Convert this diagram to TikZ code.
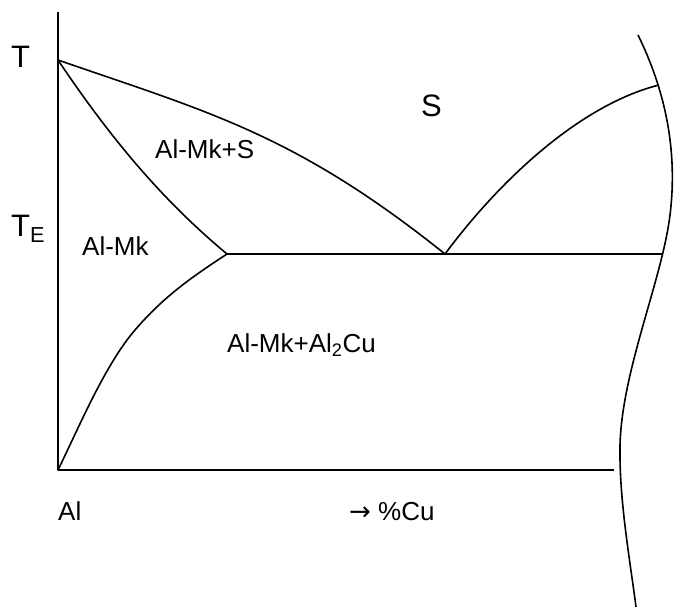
\documentclass[tikz,border=0pt]{standalone}
\usepackage{fontspec}
\setmainfont{Liberation Sans}
\newfontfamily\arrowfont{DejaVu Sans}
\tikzset{
  diag/.style={line width=1.6pt, line join=round},
  lbl/.style={anchor=base west, inner sep=0pt, font=\fontsize{26}{30}\selectfont},
  biglbl/.style={lbl, font=\fontsize{31}{36}\selectfont}
}
\begin{document}
\begin{tikzpicture}[x=1pt,y=-1pt]
  \useasboundingbox (0,0) rectangle (674,607);
  % Punti
  \coordinate (top) at (58,12);
  \coordinate (Tm) at (58,60);
  \coordinate (O) at (58,470);
  \coordinate (xend) at (614,470);
  \coordinate (sol) at (227,254);
  \coordinate (eut) at (445,254);
  \coordinate (rE) at (662,254);
  \coordinate (rL) at (659,85);
  % Assi
  \draw [diag] (top) -- (O) -- (xend);
  % Linee
  \draw [diag] (Tm) .. controls (208,112) and (295,134) .. (eut);
  \draw [diag] (Tm) .. controls (115,145) and (167,204) .. (sol);
  \draw [diag] (O) .. controls (80,425) and (105,365) .. (135,330)
    .. controls (165,295) and (195,275) .. (sol);
  \draw [diag] (sol) -- (rE);
  \draw [diag] (eut) .. controls (500,180) and (580,105) .. (rL);
  \draw [diag] (638,35) .. controls (665,90) and (678,150) .. (670,215)
    .. controls (662,280) and (622,370) .. (620,445)
    .. controls (619,500) and (630,560) .. (636,607);
  % Etichette
  \node (lblT) [biglbl] at (11,68) {T};
  \node (lblTE) [biglbl] at (11,236) {T\textsubscript{E}};
  \node (lblS) [biglbl] at (421,117) {S};
  \node (lblMkS) [lbl] at (155,158) {Al-Mk+S};
  \node (lblMk) [lbl] at (82,255) {Al-Mk};
  \node (lblMkCu) [lbl] at (227,352) {Al-Mk+Al\textsubscript{2}Cu};
  \node (lblAl) [lbl] at (58,520) {Al};
  \node (lblCu) [lbl] at (349,520) {{\arrowfont →} \%Cu};
\end{tikzpicture}
\end{document}
